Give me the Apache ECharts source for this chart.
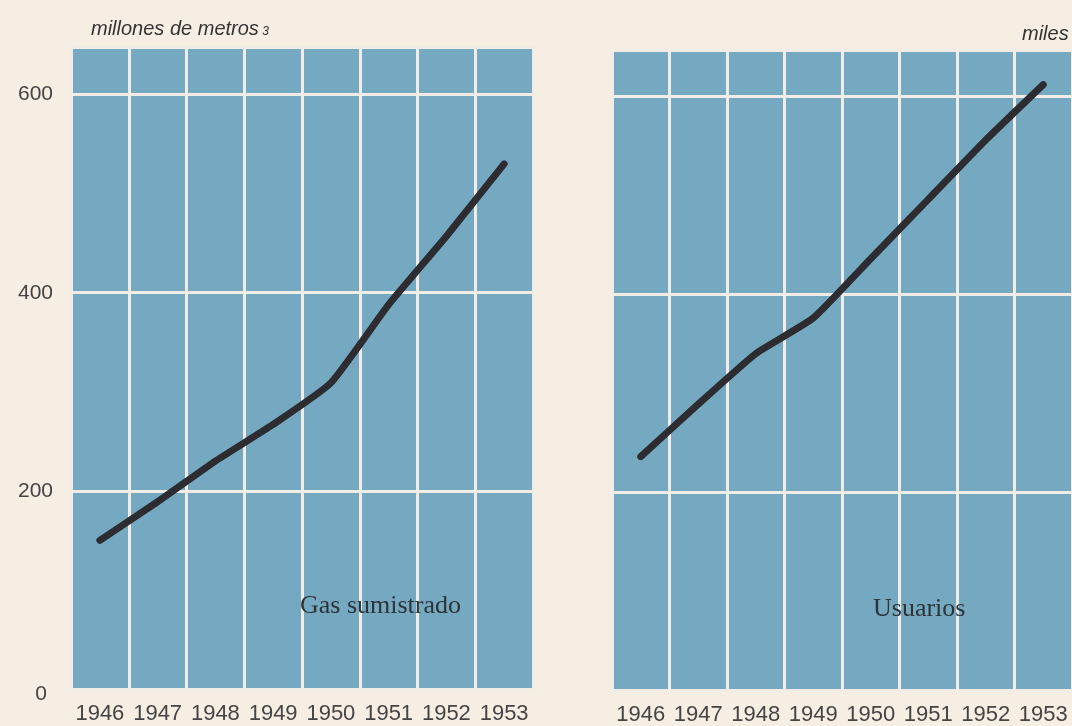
<!DOCTYPE html>
<html>
<head>
<meta charset="utf-8">
<script src="https://cdn.jsdelivr.net/npm/echarts@6/dist/echarts.min.js"></script>
<style>
html,body{margin:0;padding:0;background:#f6eee3;}
#chart{width:1072px;height:726px;}
</style>
</head>
<body>
<div id="chart"></div>
<script>
// Data
var years = ['1946','1947','1948','1949','1950','1951','1952','1953'];
var gasSuministrado = [150, 189, 230, 267, 309, 388, 457, 530]; // millones de m3
var usuarios = [236, 289, 340, 376, 436, 496, 556, 612];        // miles
var yTicks = [0, 200, 400, 600];
var leftUnit = 'millones de metros';
var rightUnit = 'miles';
var leftLabel = 'Gas sumistrado';
var rightLabel = 'Usuarios';

var panelBlue = '#75a9c2';
var gridWhite = '#f1ede6';
var lineColor = '#2c2c31';
var textColor = '#444444';

var chart = echarts.init(document.getElementById('chart'));

function xAxis(gi, showLabels) {
  return {
    type: 'category', gridIndex: gi, data: years, boundaryGap: true,
    axisLine: {show: false}, axisTick: {show: false},
    axisLabel: {show: showLabels, interval: 0, hideOverlap: false, color: textColor, fontSize: 22,
                fontFamily: 'Liberation Sans', margin: 14},
    splitLine: {show: true, interval: 0, lineStyle: {color: gridWhite, width: 3}}
  };
}
function yAxis(gi, max, showLabels) {
  return {
    type: 'value', gridIndex: gi, min: 0, max: max, interval: 200,
    axisLine: {show: false}, axisTick: {show: false},
    axisLabel: {
      show: showLabels, color: textColor, fontSize: 21, fontFamily: 'Liberation Sans', margin: 18,
      formatter: function (v) {
        if (yTicks.indexOf(v) < 0) return '';
        return v === 0 ? '{z|0}' : String(v);
      },
      rich: {z: {fontSize: 21, color: textColor, fontFamily: 'Liberation Sans', padding: [10, 6, 0, 0]}}
    },
    splitLine: {show: true, lineStyle: {color: gridWhite, width: 3}}
  };
}

chart.setOption({
  backgroundColor: '#f6eee3',
  animation: false,
  title: [
    {
      text: '{a|' + leftUnit + '}{b| 3}', left: 86, top: 14,
      textStyle: {rich: {
        a: {fontSize: 20, fontStyle: 'italic', fontWeight: 'normal', color: '#333', fontFamily: 'Liberation Sans'},
        b: {fontSize: 12, fontStyle: 'italic', fontWeight: 'normal', color: '#333', fontFamily: 'Liberation Sans', padding: [6, 0, 0, 0]}
      }}
    },
    {
      text: rightUnit, left: 1017, top: 19,
      textStyle: {fontSize: 20, fontStyle: 'italic', fontWeight: 'normal', color: '#333', fontFamily: 'Liberation Sans'}
    }
  ],
  grid: [
    {left: 71, width: 462, top: 47, bottom: 37, show: true, backgroundColor: panelBlue, borderWidth: 0},
    {left: 612, width: 464, top: 50, bottom: 34, show: true, backgroundColor: panelBlue, borderWidth: 0}
  ],
  xAxis: [xAxis(0, true), xAxis(1, true)],
  yAxis: [yAxis(0, 648, true), yAxis(1, 647, false)],
  graphic: [
    {type: 'text', z: 100, left: 300, top: 593, style: {text: leftLabel, fontSize: 26, fontFamily: 'Liberation Serif', fill: '#2e3338'}},
    {type: 'text', z: 100, left: 873, top: 596, style: {text: rightLabel, fontSize: 26, fontFamily: 'Liberation Serif', fill: '#2e3338'}}
  ],
  series: [
    {type: 'line', xAxisIndex: 0, yAxisIndex: 0, data: gasSuministrado, smooth: 0.15, symbol: 'none',
     lineStyle: {color: lineColor, width: 7, cap: 'round', join: 'round'}},
    {type: 'line', xAxisIndex: 1, yAxisIndex: 1, data: usuarios, smooth: 0.15, symbol: 'none',
     lineStyle: {color: lineColor, width: 7, cap: 'round', join: 'round'}}
  ]
});
</script>
</body>
</html>
